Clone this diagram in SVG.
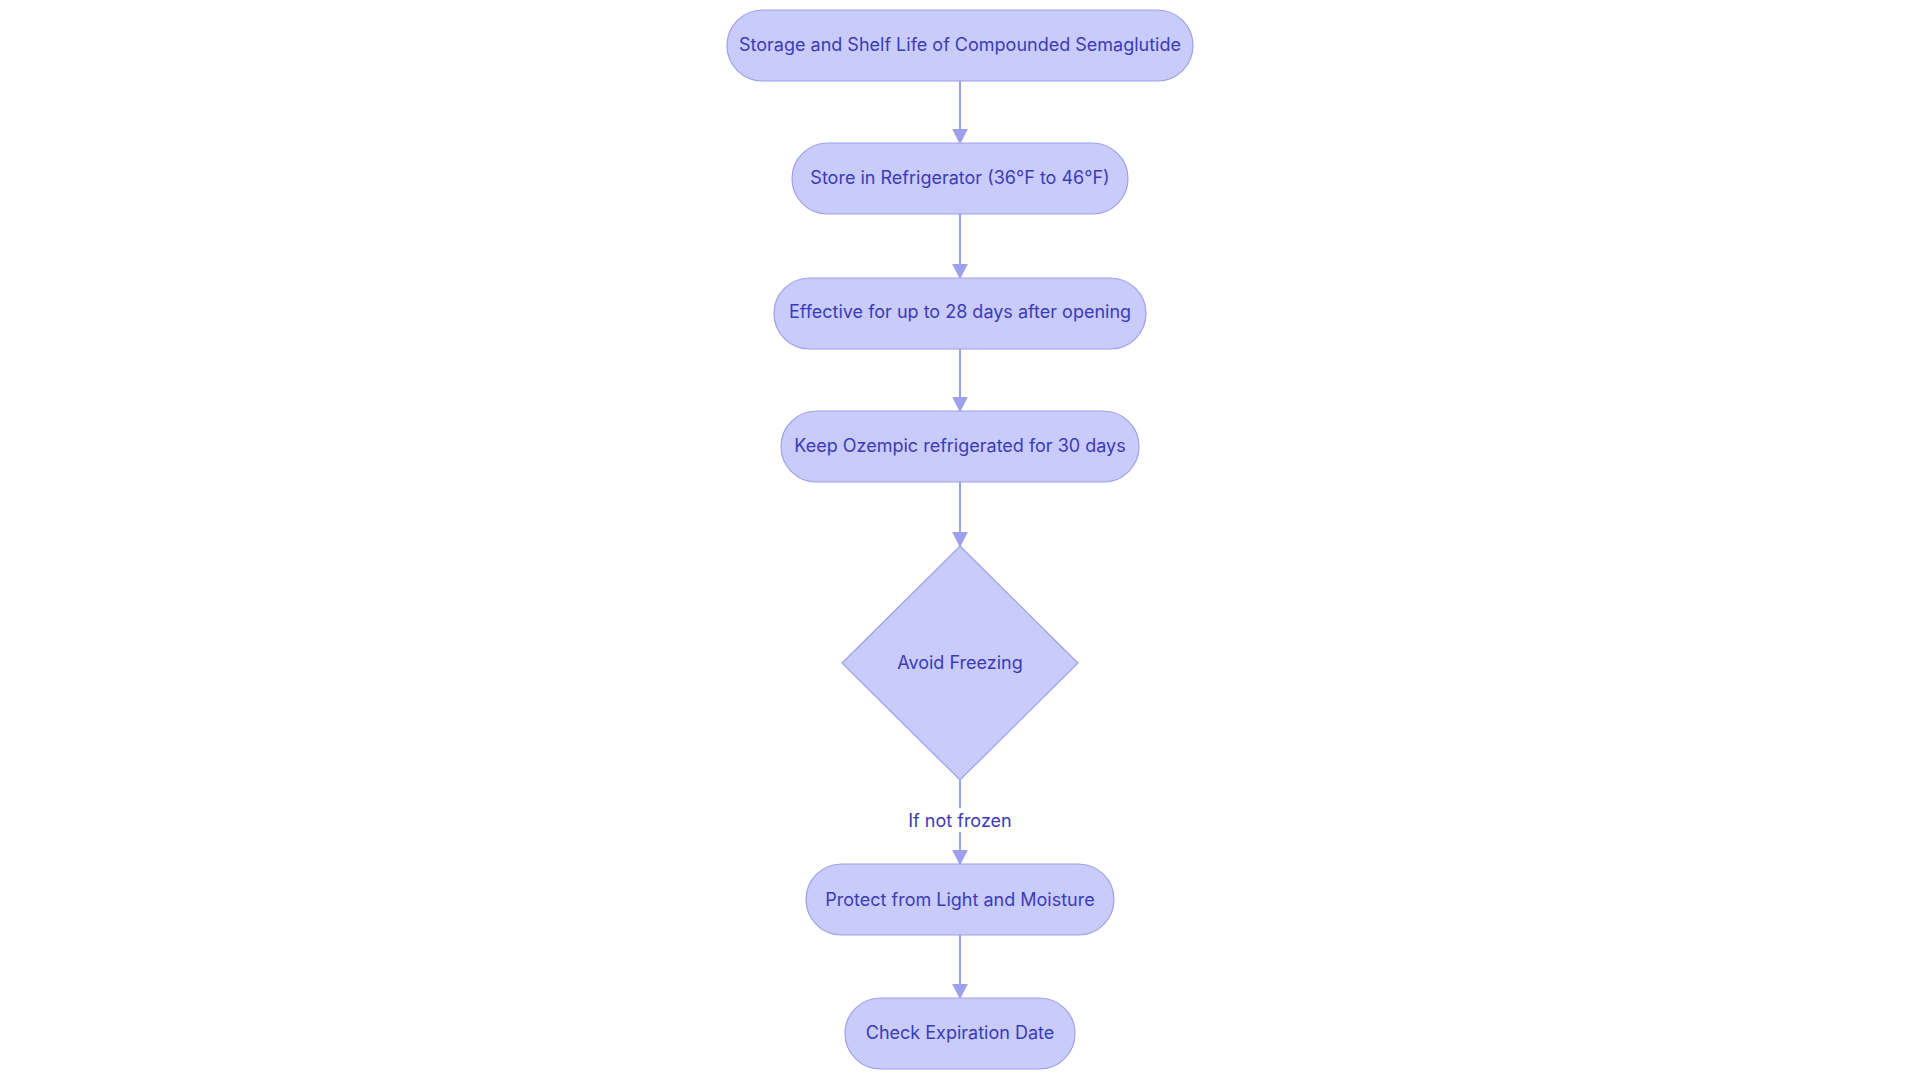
<svg xmlns="http://www.w3.org/2000/svg" width="1920" height="1083" viewBox="0 0 1920 1083">
<style>
.n{fill:#c9cbfb;stroke:#9da0ec;stroke-width:1.2}
.t{font-family:Inter,"Noto Sans",sans-serif;font-size:18px;fill:#3b3bb8;text-anchor:middle;dominant-baseline:central}
.e{stroke:#9da0ec;stroke-width:2;fill:none;marker-end:url(#a)}
</style>
<defs><marker id="a" viewBox="0 0 10 10" refX="9" refY="5" markerWidth="8" markerHeight="8" orient="auto"><path d="M0,0L10,5L0,10z" fill="#9da0ec"/></marker></defs>
<rect width="1920" height="1083" fill="#fff"/>
<g id="edges">
<path class="e" d="M960,81V143"/>
<path class="e" d="M960,214V278"/>
<path class="e" d="M960,349V411"/>
<path class="e" d="M960,482V546"/>
<path class="e" d="M960,780V864"/>
<path class="e" d="M960,935V998"/>
<rect x="906" y="808" width="108" height="24" fill="#fff"/>
<text class="t" x="960" y="820">If not frozen</text>
</g>
<g id="n1"><rect class="n" x="727" y="10" width="466" height="71" rx="35.5"/><text class="t" x="960" y="44">Storage and Shelf Life of Compounded Semaglutide</text></g>
<g id="n2"><rect class="n" x="792" y="143" width="336" height="71" rx="35.5"/><text class="t" x="960" y="177">Store in Refrigerator (36°F to 46°F)</text></g>
<g id="n3"><rect class="n" x="774" y="278" width="372" height="71" rx="35.5"/><text class="t" x="960" y="311">Effective for up to 28 days after opening</text></g>
<g id="n4"><rect class="n" x="781" y="411" width="358" height="71" rx="35.5"/><text class="t" x="960" y="445">Keep Ozempic refrigerated for 30 days</text></g>
<g id="n5"><polygon class="n" points="960,546 1078,663 960,780 842,663"/><text class="t" x="960" y="662">Avoid Freezing</text></g>
<g id="n6"><rect class="n" x="806" y="864" width="308" height="71" rx="35.5"/><text class="t" x="960" y="899">Protect from Light and Moisture</text></g>
<g id="n7"><rect class="n" x="845" y="998" width="230" height="71" rx="35.5"/><text class="t" x="960" y="1032">Check Expiration Date</text></g>
</svg>
